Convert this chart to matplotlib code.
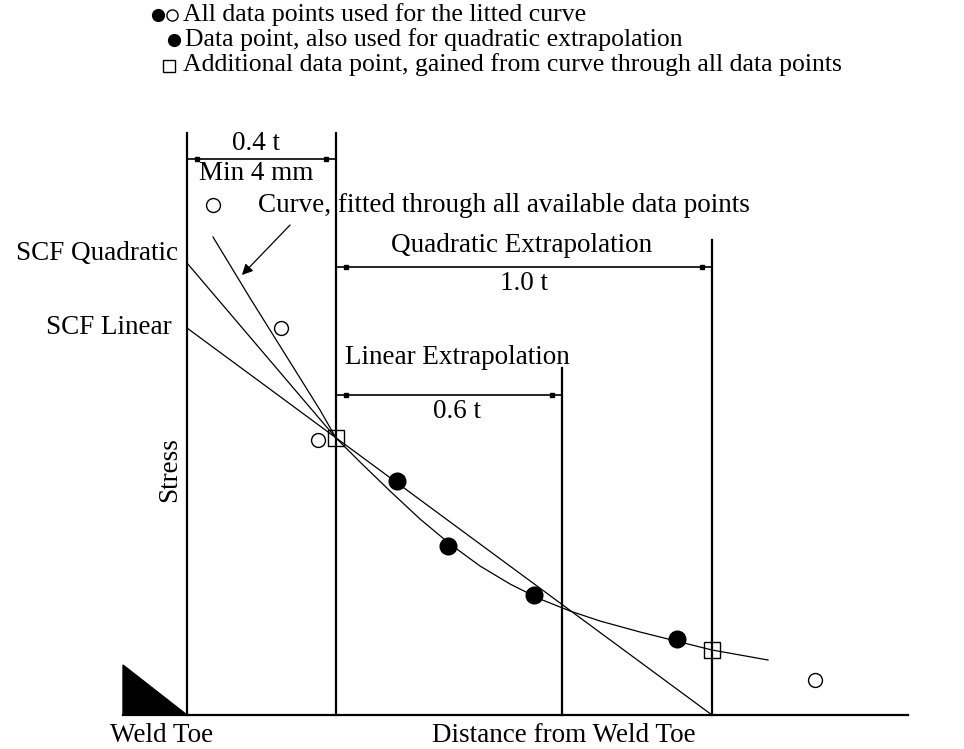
import matplotlib.pyplot as plt

# coordinates: distance from weld toe / stress above the base line (drawing units)
curve_x = [26, 63, 103, 133, 149, 173, 203, 233, 263, 293, 323, 353, 383, 413, 453, 493, 525, 581]
curve_y = [478, 417, 353, 305, 277, 253, 224, 196, 171, 149, 131, 116, 104, 94, 83, 73, 65, 55]

quad_x = [0, 40, 80, 120, 149]
quad_y = [452, 405, 358, 311, 277]

lin_x = [0, 525]
lin_y = [387, 0]

open_x = [26, 94, 131, 628]
open_y = [510, 387, 275, 35]
fill_x = [210, 261, 347, 490]
fill_y = [234, 169, 120, 76]
sq_x = [149, 525]
sq_y = [277, 65]

weld_x = [-64, -64, 0]
weld_y = [0, 50, 0]

fs = 19.5
lfs = 18.5
plt.rcParams['font.family'] = 'Liberation Serif'

fig = plt.figure(figsize=(9.64, 7.49), dpi=100)
ax = fig.add_axes([0, 0, 1, 1])
ax.set_xlim(-187, 964 - 187)
ax.set_ylim(715 - 749, 715)
ax.axis('off')

# frame lines
ax.plot([-64, 721], [0, 0], color='black', lw=1.6)
ax.fill(weld_x, weld_y, color='black')
for x, top in [(0, 582), (149, 582), (375, 347), (525, 475)]:
    ax.plot([x, x], [0, top], color='black', lw=1.6)

# dimension lines
for x0, x1, y in [(0, 149, 556), (149, 525, 448), (149, 375, 320)]:
    ax.plot([x0, x1], [y, y], color='black', lw=1.2)
    ax.plot([x0 + 10, x1 - 10], [y, y], ls='none', marker='s', ms=3.5, color='black')

# curves
ax.plot(lin_x, lin_y, color='black', lw=0.9)
ax.plot(quad_x, quad_y, color='black', lw=0.9)
ax.plot(curve_x, curve_y, color='black', lw=0.9)

# data points
ax.plot(open_x, open_y, ls='none', marker='o', ms=10, mfc='white', mec='black', mew=1)
ax.plot(fill_x, fill_y, ls='none', marker='o', ms=12, color='black')
ax.plot(sq_x, sq_y, ls='none', marker='s', ms=11, mfc='none', mec='black', mew=1)

# labels
ax.text(69, 572, '0.4 t', ha='center', va='center', fontsize=fs)
ax.text(69, 542, 'Min 4 mm', ha='center', va='center', fontsize=fs)
ax.text(335, 470, 'Quadratic Extrapolation', ha='center', va='center', fontsize=fs)
ax.text(337, 432, '1.0 t', ha='center', va='center', fontsize=fs)
ax.text(158, 357, 'Linear Extrapolation', ha='left', va='center', fontsize=fs)
ax.text(270, 303, '0.6 t', ha='center', va='center', fontsize=fs)
ax.text(-9, 462, 'SCF Quadratic', ha='right', va='center', fontsize=fs)
ax.text(-15, 388, 'SCF Linear', ha='right', va='center', fontsize=fs)
ax.text(-17, 245, 'Stress', rotation=90, ha='center', va='center', fontsize=fs)
ax.text(-25, -20, 'Weld Toe', ha='center', va='center', fontsize=fs)
ax.text(377, -20, 'Distance from Weld Toe', ha='center', va='center', fontsize=fs)
ax.text(71, 510, 'Curve, fitted through all available data points', ha='left', va='center', fontsize=fs)
ax.annotate('', xy=(53, 438), xytext=(105, 492),
            arrowprops=dict(arrowstyle='-|>', color='black', lw=0.9, mutation_scale=16))

# legend
ax.plot([-29], [700], ls='none', marker='o', ms=8.5, color='black')
ax.plot([-15], [700], ls='none', marker='o', ms=8, mfc='white', mec='black', mew=1)
ax.text(-4, 700, 'All data points used for the litted curve', ha='left', va='center', fontsize=lfs)
ax.plot([-13], [675], ls='none', marker='o', ms=8.5, color='black')
ax.text(-2, 675, 'Data point, also used for quadratic extrapolation', ha='left', va='center', fontsize=lfs)
ax.plot([-18], [649], ls='none', marker='s', ms=8, mfc='white', mec='black', mew=1)
ax.text(-4, 650, 'Additional data point, gained from curve through all data points', ha='left', va='center', fontsize=lfs)

fig.savefig('out.png', dpi=100, facecolor='white')
